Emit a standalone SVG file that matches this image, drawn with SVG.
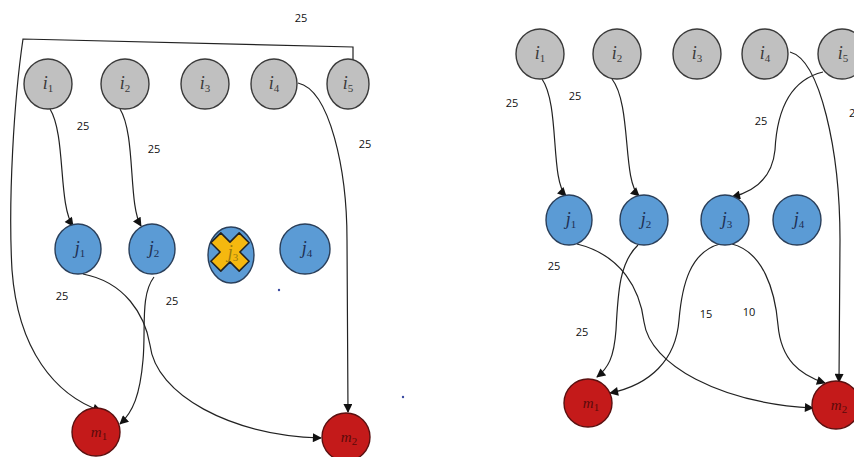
<svg xmlns="http://www.w3.org/2000/svg" width="854" height="457" viewBox="0 0 854 457">
<style>
.gi{fill:#c0c0c0;stroke:#3a3a3a;stroke-width:1.4}
.bj{fill:#5b9bd5;stroke:#2a3f5a;stroke-width:1.4}
.rm{fill:#c41a1a;stroke:#5a1010;stroke-width:1.4}
.lab{font-family:"Liberation Serif",serif;font-size:18px;text-anchor:middle}
.li{fill:#3a3a3a}
.lj{fill:#1e2f52}
.lm{fill:#5a0a0a}
.sub{font-size:11px;font-style:normal}
.w{font-family:"Open Sans","Liberation Sans",sans-serif;font-size:11px;fill:#111;text-anchor:middle}
.e{fill:none;stroke:#222;stroke-width:1.2}
</style>
<defs>
<marker id="ah" viewBox="0 0 10 10" refX="9" refY="5" markerWidth="10" markerHeight="9" markerUnits="userSpaceOnUse" orient="auto">
<path d="M0,0 L10,5 L0,10 Z" fill="#111"/>
</marker>
</defs>
<rect width="854" height="457" fill="#fff"/>

<g id="connectors">
<path class="e" marker-end="url(#ah)" d="M50,109 C66,135 58,205 73,226"/>
<path class="e" marker-end="url(#ah)" d="M120,109 C136,135 128,205 141,226"/>
<path class="e" marker-end="url(#ah)" d="M298,83 C330,90 347,170 347,240 L348,412"/>
<path class="e" marker-end="url(#ah)" d="M353,60 L353,47 L23,39 C14,100 8,200 12,270 C18,350 55,395 101,411"/>
<path class="e" marker-end="url(#ah)" d="M83,274 C125,282 145,315 150,345 C156,395 230,435 321,438"/>
<path class="e" marker-end="url(#ah)" d="M154,277 C140,295 146,330 143,360 C140,395 133,412 120,424"/>
<path class="e" marker-end="url(#ah)" d="M542,79 C560,105 550,180 566,196"/>
<path class="e" marker-end="url(#ah)" d="M612,79 C632,105 622,180 639,196"/>
<path class="e" marker-end="url(#ah)" d="M823,72 C790,80 777,110 775,150 C772,180 752,192 732,197"/>
<path class="e" marker-end="url(#ah)" d="M790,52 C820,60 840,150 840,240 L839,382"/>
<path class="e" marker-end="url(#ah)" d="M577,244 C622,255 640,290 644,322 C650,365 720,403 813,408"/>
<path class="e" marker-end="url(#ah)" d="M638,245 C620,262 618,290 616,330 C614,358 608,368 597,377"/>
<path class="e" marker-end="url(#ah)" d="M720,244 C690,252 682,285 679,320 C676,360 650,385 610,393"/>
<path class="e" marker-end="url(#ah)" d="M732,244 C763,252 775,290 778,325 C781,360 800,375 825,383"/>
</g>

<g id="weights">
<text class="w" x="301" y="22">25</text>
<text class="w" x="83" y="130">25</text>
<text class="w" x="154" y="153">25</text>
<text class="w" x="365" y="148">25</text>
<text class="w" x="62" y="300">25</text>
<text class="w" x="172" y="305">25</text>
<text class="w" x="512" y="107">25</text>
<text class="w" x="575" y="100">25</text>
<text class="w" x="761" y="125">25</text>
<text class="w" x="849" y="117" style="text-anchor:start">25</text>
<text class="w" x="554" y="270">25</text>
<text class="w" x="582" y="336">25</text>
<text class="w" x="706" y="318">15</text>
<text class="w" x="749" y="316">10</text>
</g>

<g id="L_i1"><ellipse class="gi" cx="48" cy="84" rx="24" ry="25"/><text class="lab li" x="48" y="89"><tspan font-style="italic">i</tspan><tspan class="sub" dy="3">1</tspan></text></g>
<g id="L_i2"><ellipse class="gi" cx="125" cy="84" rx="24" ry="25"/><text class="lab li" x="125" y="89"><tspan font-style="italic">i</tspan><tspan class="sub" dy="3">2</tspan></text></g>
<g id="L_i3"><ellipse class="gi" cx="205" cy="84" rx="24" ry="25"/><text class="lab li" x="205" y="89"><tspan font-style="italic">i</tspan><tspan class="sub" dy="3">3</tspan></text></g>
<g id="L_i4"><ellipse class="gi" cx="274" cy="84" rx="23" ry="25"/><text class="lab li" x="274" y="89"><tspan font-style="italic">i</tspan><tspan class="sub" dy="3">4</tspan></text></g>
<g id="L_i5"><ellipse class="gi" cx="348" cy="84" rx="21" ry="25"/><text class="lab li" x="348" y="89"><tspan font-style="italic">i</tspan><tspan class="sub" dy="3">5</tspan></text></g>

<g id="L_j1"><ellipse class="bj" cx="78" cy="249" rx="23" ry="25"/><text class="lab lj" x="80" y="254"><tspan font-style="italic">j</tspan><tspan class="sub" dy="3">1</tspan></text></g>
<g id="L_j2"><ellipse class="bj" cx="152" cy="249" rx="23" ry="25"/><text class="lab lj" x="154" y="254"><tspan font-style="italic">j</tspan><tspan class="sub" dy="3">2</tspan></text></g>
<g id="L_j3"><ellipse class="bj" cx="231" cy="255" rx="23" ry="28"/>
<path transform="translate(230,252) rotate(45)" d="M-7,-20 L7,-20 L7,-7 L20,-7 L20,7 L7,7 L7,20 L-7,20 L-7,7 L-20,7 L-20,-7 L-7,-7 Z" fill="#f5b80f" stroke="#222" stroke-width="1.6" stroke-linejoin="round"/>
<text class="lab" x="233" y="258" fill="#9a7a10"><tspan font-style="italic">j</tspan><tspan class="sub" dy="3">3</tspan></text></g>
<g id="L_j4"><ellipse class="bj" cx="305" cy="249" rx="25" ry="25"/><text class="lab lj" x="307" y="254"><tspan font-style="italic">j</tspan><tspan class="sub" dy="3">4</tspan></text></g>

<g id="L_m1"><circle class="rm" cx="96" cy="432" r="24"/><text class="lab lm" x="99" y="437" style="font-size:15px"><tspan font-style="italic">m</tspan><tspan class="sub" dy="3">1</tspan></text></g>
<g id="L_m2"><circle class="rm" cx="346" cy="437" r="24"/><text class="lab lm" x="349" y="442" style="font-size:15px"><tspan font-style="italic">m</tspan><tspan class="sub" dy="3">2</tspan></text></g>

<g id="dots"><circle cx="279" cy="290" r="1.2" fill="#3a4aa0"/><circle cx="403" cy="397" r="1.2" fill="#3a4aa0"/></g>

<g id="R_i1"><ellipse class="gi" cx="540" cy="54" rx="24" ry="25"/><text class="lab li" x="540" y="59"><tspan font-style="italic">i</tspan><tspan class="sub" dy="3">1</tspan></text></g>
<g id="R_i2"><ellipse class="gi" cx="617" cy="54" rx="24" ry="25"/><text class="lab li" x="617" y="59"><tspan font-style="italic">i</tspan><tspan class="sub" dy="3">2</tspan></text></g>
<g id="R_i3"><ellipse class="gi" cx="697" cy="54" rx="24" ry="25"/><text class="lab li" x="697" y="59"><tspan font-style="italic">i</tspan><tspan class="sub" dy="3">3</tspan></text></g>
<g id="R_i4"><ellipse class="gi" cx="765" cy="54" rx="23" ry="25"/><text class="lab li" x="765" y="59"><tspan font-style="italic">i</tspan><tspan class="sub" dy="3">4</tspan></text></g>
<g id="R_i5"><ellipse class="gi" cx="842" cy="54" rx="24" ry="25"/><text class="lab li" x="843" y="59"><tspan font-style="italic">i</tspan><tspan class="sub" dy="3">5</tspan></text></g>

<g id="R_j1"><ellipse class="bj" cx="569" cy="220" rx="23" ry="25"/><text class="lab lj" x="571" y="225"><tspan font-style="italic">j</tspan><tspan class="sub" dy="3">1</tspan></text></g>
<g id="R_j2"><ellipse class="bj" cx="644" cy="220" rx="24" ry="25"/><text class="lab lj" x="646" y="225"><tspan font-style="italic">j</tspan><tspan class="sub" dy="3">2</tspan></text></g>
<g id="R_j3"><ellipse class="bj" cx="725" cy="220" rx="24" ry="25"/><text class="lab lj" x="727" y="225"><tspan font-style="italic">j</tspan><tspan class="sub" dy="3">3</tspan></text></g>
<g id="R_j4"><ellipse class="bj" cx="797" cy="220" rx="24" ry="25"/><text class="lab lj" x="799" y="225"><tspan font-style="italic">j</tspan><tspan class="sub" dy="3">4</tspan></text></g>

<g id="R_m1"><circle class="rm" cx="588" cy="403" r="24"/><text class="lab lm" x="591" y="408" style="font-size:15px"><tspan font-style="italic">m</tspan><tspan class="sub" dy="3">1</tspan></text></g>
<g id="R_m2"><circle class="rm" cx="836" cy="405" r="24"/><text class="lab lm" x="839" y="410" style="font-size:15px"><tspan font-style="italic">m</tspan><tspan class="sub" dy="3">2</tspan></text></g>
</svg>
